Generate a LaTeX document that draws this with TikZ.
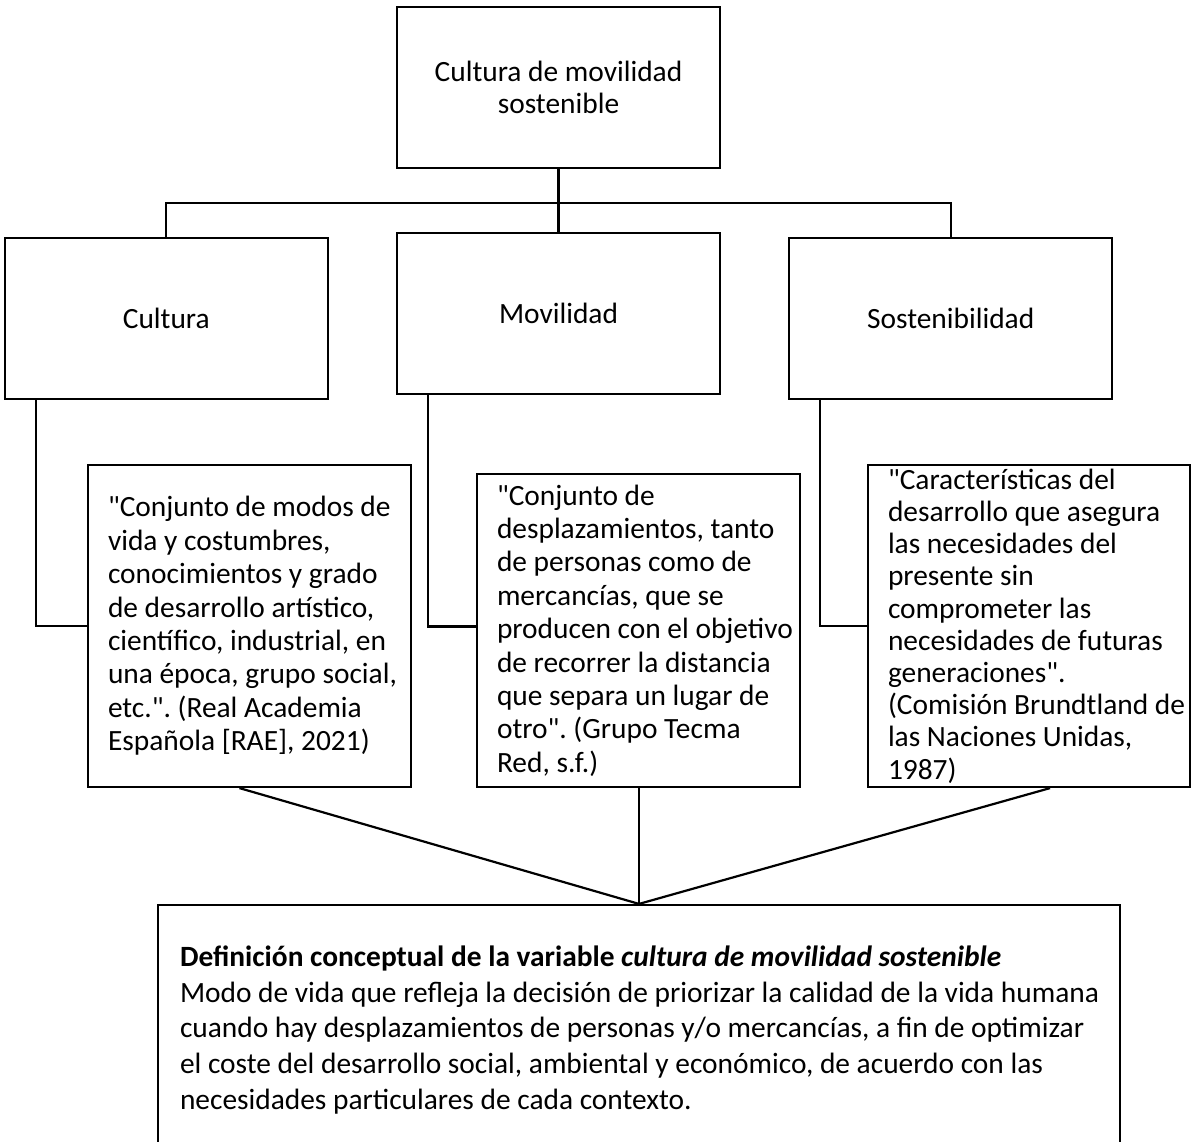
\documentclass[tikz,border=0pt]{standalone}
\usepackage{fontspec}
\setmainfont{Carlito}[Ligatures=TeXOff]
\frenchspacing
\usetikzlibrary{positioning, calc}

\begin{document}
\begin{tikzpicture}[x=1pt, y=-1pt, line width=2.2pt]
    \tikzstyle{headbox} = [draw, rectangle, minimum width=323pt, minimum height=161pt, align=center, font=\fontsize{29.4}{31.6}\selectfont];
    \tikzstyle{defbox} = [draw, rectangle, text width=319pt, inner xsep=2pt, inner ysep=0pt, align=flush left, execute at begin node={\leftskip=18pt}, font=\fontsize{29.4}{33.4}\selectfont];
    \tikzstyle{sumbox} = [draw, rectangle, minimum height=250pt, text width=958pt, inner xsep=2pt, inner ysep=0pt, align=flush left, execute at begin node={\leftskip=20pt}, font=\fontsize{29.4}{35.7}\selectfont];

    \useasboundingbox (0,0) rectangle (1196,1141);
    \clip (0,0) rectangle (1196,1141);

    % upper row
    \node[headbox] (T) at (558.5, 87.5) {Cultura de movilidad\\sostenible};
    \node[headbox, below = 63pt of T] (M) {Movilidad};
    \node[headbox, left = 67pt of M, yshift=-5pt] (C) {Cultura};
    \node[headbox, right = 67pt of M, yshift=-5pt] (S) {Sostenibilidad};

    % definitions
    \node[defbox, minimum height=322pt] (D1) at (249.5, 626) {"Conjunto de modos de\\vida y costumbres,\\conocimientos y grado\\de desarrollo artístico,\\científico, industrial, en\\una época, grupo social,\\etc.". (Real Academia\\Española [RAE], 2021)};
    \node[defbox, minimum height=313pt] (D2) at (638.5, 630.5) {"Conjunto de\\desplazamientos, tanto\\de personas como de\\mercancías, que se\\producen con el objetivo\\de recorrer la distancia\\que separa un lugar de\\otro". (Grupo Tecma\\Red, s.f.)};
    \node[defbox, minimum height=322pt, text width=318pt, font=\fontsize{29.4}{32.2}\selectfont] (D3) at (1029, 626) {"Características del\\desarrollo que asegura\\las necesidades del\\presente sin\\comprometer las\\necesidades de futuras\\generaciones".\\(Comisión Brundtland de\\las Naciones Unidas,\\1987)};

    \node[sumbox] (B) at (639, 1030) {\textbf{Definición conceptual de la variable \textit{cultura de movilidad sostenible}}\\Modo de vida que refleja la decisión de priorizar la calidad de la vida humana\\cuando hay desplazamientos de personas y/o mercancías, a fin de optimizar\\el coste del desarrollo social, ambiental y económico, de acuerdo con las\\necesidades particulares de cada contexto.};

    \draw (T.south) -- (M.north);
    \draw (C.north) -- ++(0,-34) -| (S.north);

    \draw ($(C.south west)+(32,0)$) |- (D1.west);
    \draw ($(M.south west)+(32,0)$) |- ($(D2.west)+(0,-4)$);
    \draw ($(S.south west)+(32,0)$) |- (D3.west);

    \draw ($(D1.south)+(-10,0)$) -- (B.north);
    \draw (B.north |- D2.south) -- (B.north);
    \draw ($(D3.south)+(21,0)$) -- (B.north);
\end{tikzpicture}
\end{document}
